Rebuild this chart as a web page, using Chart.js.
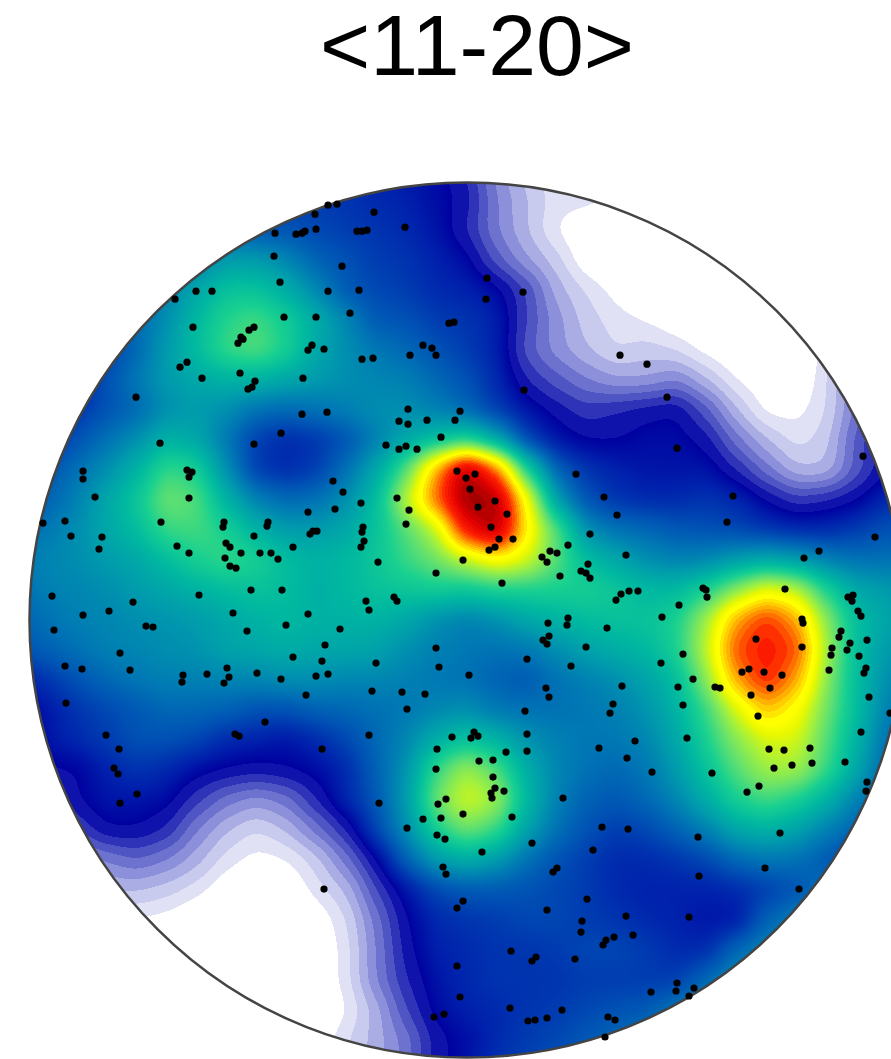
<!DOCTYPE html>
<html>
<head>
<meta charset="utf-8">
<title>&lt;11-20&gt;</title>
<script src="https://cdn.jsdelivr.net/npm/chart.js@4"></script>
<style>
  html, body { margin: 0; padding: 0; background: #fff; overflow: hidden; }
  #wrap { width: 891px; height: 1059px; overflow: hidden; }
  canvas { display: block; }
</style>
</head>
<body>
<div id="wrap"><canvas id="canvas" width="954" height="1059"></canvas></div>
<script>
// pole figure, x / y are projection units with the disc centre at 0,0
var titleText = '<11-20>';
var discRadius = 437.5;

// density grid (0 = white, 99 = darkest red)
var gridX = [-450,-420,-390,-360,-330,-300,-270,-240,-210,-180,-150,-120,-90,-60,-30,0,30,60,90,120,150,180,210,240,270,300,330,360,390,420,450];
var gridY = [450,420,390,360,330,300,270,240,210,180,150,120,90,60,30,0,-30,-60,-90,-120,-150,-180,-210,-240,-270,-300,-330,-360,-390,-420,-450];
var density = [
  [28,28,28,28,28,28,28,28,28,28,27,26,25,24,23,20,13,9,6,5,4,3,2,1,1,1,1,1,1,1,1],
  [29,29,29,29,29,29,29,29,29,29,28,27,26,25,23,21,14,10,7,7,6,5,2,1,1,1,1,1,1,1,1],
  [32,32,32,32,32,32,32,32,30,30,29,28,27,26,24,20,14,10,6,3,2,1,1,1,1,1,1,1,1,1,1],
  [35,35,35,35,35,35,35,40,40,37,32,30,28,27,25,23,17,12,9,4,2,1,1,1,1,1,1,1,1,1,1],
  [34,34,34,34,34,36,42,47,47,43,37,31,29,28,26,25,23,18,11,8,5,2,1,1,1,1,1,1,1,1,1],
  [30,30,30,30,33,38,45,51,53,49,43,37,31,30,28,27,25,18,13,9,7,6,4,2,1,1,1,2,2,2,2],
  [26,26,26,28,33,40,46,52,54,50,42,38,35,33,30,28,25,17,13,10,8,9,8,5,3,1,1,8,12,14,14],
  [24,24,24,30,35,40,42,44,44,42,40,38,37,36,33,30,26,20,17,14,12,12,14,10,6,4,3,8,14,18,18],
  [26,26,27,30,33,38,40,38,34,33,34,36,38,38,36,33,28,24,21,19,20,21,22,17,10,5,5,8,15,20,20],
  [26,26,30,34,38,44,42,35,28,26,27,30,36,42,46,50,42,29,24,22,22,23,23,21,15,10,7,9,17,22,22],
  [30,30,34,38,44,52,50,38,28,26,28,34,42,54,76,97,80,50,32,27,25,24,24,24,20,15,10,10,17,22,22],
  [30,32,36,42,48,56,54,44,36,33,34,38,46,62,80,99,97,68,40,30,27,26,26,27,26,22,19,20,22,26,28],
  [33,35,38,42,46,52,53,50,44,40,40,42,47,54,62,88,97,70,54,38,34,33,31,30,29,27,26,26,28,30,30],
  [35,37,38,40,42,46,50,52,50,46,44,45,48,52,56,62,68,64,54,46,42,38,36,37,40,42,40,36,34,34,34],
  [33,36,37,38,40,42,44,46,47,46,43,45,47,48,49,48,50,50,50,50,48,45,45,50,58,66,62,50,42,40,38],
  [32,34,36,37,38,39,40,42,44,45,44,44,44,42,38,36,38,42,44,46,47,47,50,60,76,84,76,58,46,42,38],
  [30,32,34,36,37,38,39,41,42,43,42,42,41,38,36,35,34,35,38,41,43,45,50,62,82,86,82,60,46,40,36],
  [24,27,30,33,35,36,36,37,37,38,38,37,37,36,35,34,32,31,34,36,38,41,46,58,76,85,76,58,46,38,34],
  [22,24,27,29,31,33,33,32,30,30,32,33,34,35,37,38,35,34,34,35,36,39,44,52,64,74,68,56,46,36,32],
  [20,24,26,28,30,30,29,26,25,24,26,29,33,37,43,47,44,39,36,35,35,37,42,50,58,64,64,54,44,34,30],
  [20,22,22,25,27,26,23,22,21,22,23,26,32,39,52,60,54,43,37,34,33,35,40,47,54,60,60,52,42,32,28],
  [14,16,22,24,24,23,19,15,13,15,20,26,31,40,56,64,60,45,36,32,31,33,37,43,50,53,50,44,36,30,26],
  [12,14,18,22,22,20,14,10,8,10,15,20,29,38,50,56,52,41,34,30,28,29,32,36,42,44,41,36,32,28,25],
  [8,10,12,14,16,14,11,7,5,6,9,15,22,32,40,43,40,34,30,28,26,26,27,29,33,35,34,31,28,26,24],
  [5,6,8,10,10,9,7,4,2,3,7,10,18,24,29,31,31,30,29,28,26,25,25,25,26,28,30,34,30,26,24],
  [3,4,4,5,6,5,3,1,1,1,4,8,15,22,26,27,28,29,29,28,27,26,25,24,24,32,36,36,30,28,26],
  [2,2,2,2,2,2,1,1,1,1,3,7,14,21,25,26,27,27,28,29,29,28,26,26,33,37,37,36,34,32,30],
  [1,1,1,1,1,1,1,1,1,1,3,7,14,20,24,26,27,27,27,28,28,28,28,33,38,38,38,38,36,34,32],
  [1,1,1,1,1,1,1,1,1,1,2,6,11,18,23,25,26,27,28,29,30,31,35,38,38,38,38,38,38,36,34],
  [1,1,1,1,1,1,1,1,1,1,4,8,11,15,21,23,26,28,29,31,33,35,38,38,38,38,38,38,38,36,34],
  [1,1,1,1,1,1,1,1,1,1,4,8,11,15,21,24,27,29,30,32,34,36,38,38,38,38,38,38,38,36,34]
];

// colour stops: density value, colour
var stopValues = [0,6,8,10,12,14,16,18,20,22,25,30,35,40,45,50,55,60,65,68,73,78,83,90,98];
var stopColors = ['#ffffff','#e0e1f5','#c8caee','#a9ade3','#8c90da','#6e72cf','#5055c4','#2e33b8','#0f12ab','#0000a0','#0020ac','#0050b4','#0078b4','#009cac','#00b8a0','#18d090','#60e070','#a0f040','#e8f800','#ffff00','#ffc000','#ff7000','#ff2000','#e00000','#900000'];

// measured orientations
var poleX = [-139,-152,-192,-171,-165,-162,-151,-193,-187,-139,-271,-255,-292,-183,-151,-274,-213,-218,-224,-229,-226,-155,-159,-143,-280,-287,-227,-265,-164,-212,-219,-215,-331,
  -130,-93,-62,-110,-105,-100,-125,20,56,-108,19,-117,-18,-13,-44,-35,-31,-57,-105,-94,153,57,180,200,
  -165,-140,-186,-213,-307,-384,-384,-280,-275,-278,-372,-278,-159,-424,-402,-306,-243,-244,-199,-200,-396,-365,-213,-150,-154,-157,-174,-368,-290,-241,-237,-226,-278,-207,-196,-189,-242,-237,-231,-415,-268,-216,-185,-334,-384,-358,-234,-159,
  -59,-7,-68,-59,-40,-12,-26,-81,-68,-61,-50,-10,8,-1,3,-134,-124,28,11,-70,-106,-132,-58,40,-61,24,-104,-105,-103,-106,32,46,22,28,-4,-89,-31,35,-101,-70,-73,-98,109,137,150,123,101,83,75,90,80,159,121,114,119,123,93,154,149,162,101,
  210,396,266,260,408,352,337,171,236,240,239,212,318,381,386,385,391,394,195,335,
  -413,-321,-314,-220,-181,-142,-347,-402,-385,-337,-174,-145,-284,-260,-240,-238,-243,-210,-186,-151,-139,-285,-161,-401,-202,-361,-228,-232,-145,-348,-353,-349,-330,-347,
  -127,-31,-91,-28,2,81,100,140,82,76,80,119,60,104,-95,-65,-42,79,82,155,146,143,-60,58,-98,-15,7,4,11,60,-30,39,60,132,160,12,26,-31,26,28,37,24,25,-21,-29,-88,96,-4,-44,-26,45,135,-60,-30,-22,161,
  336,374,372,400,383,380,289,335,365,364,392,216,194,399,397,362,275,282,297,315,226,211,248,253,303,284,402,216,291,423,394,168,220,343,302,317,378,307,325,345,185,245,292,280,400,399,231,313,
  -143,15,65,126,-24,-21,90,86,-4,-10,120,80,115,159,114,147,139,136,44,69,65,108,-10,-7,43,95,-23,-33,61,68,80,141,148,138,
  298,232,332,222,166,210,209,227,184,222];
var poleY = [415,406,387,386,387,389,391,364,338,329,329,329,321,303,303,293,293,290,281,277,283,275,270,271,258,253,247,242,242,239,231,233,223,
  416,408,393,389,389,390,354,342,328,330,321,307,297,298,275,272,265,265,261,262,265,230,256,223,
  206,208,187,176,177,149,141,150,148,143,123,122,108,97,99,98,98,93,98,94,84,83,84,89,89,86,73,71,74,77,73,67,67,67,67,61,62,54,52,24,25,30,30,18,5,9,7,6,
  211,209,199,196,200,200,183,175,171,174,171,149,146,142,131,139,128,119,113,122,117,111,110,106,96,93,93,88,79,73,81,81,70,73,60,58,47,37,19,19,23,10,146,123,105,86,75,69,63,67,58,65,56,49,47,42,44,26,20,29,2,
  172,164,124,98,83,69,62,29,32,23,30,15,31,23,25,19,9,4,3,1,
  -10,-6,-7,-11,-5,-25,-33,-46,-49,-50,-37,-41,-55,-54,-48,-57,-63,-53,-59,-56,-54,-62,-75,-83,-102,-115,-116,-114,-129,-129,-148,-154,-174,-183,
  -9,-28,-43,-47,-55,-3,-5,-8,-16,-20,-24,-27,-39,-46,-71,-72,-74,-68,-77,-66,-84,-93,-89,-91,-115,-117,-112,-118,-116,-114,-129,-132,-131,-128,-138,-141,-140,-149,-157,-168,-171,-173,-178,-179,-184,-183,-178,-194,-199,-198,-197,-207,-208,-215,-219,-209,
  -3,-11,-17,-20,-23,-30,-19,-27,-28,-35,-36,-34,-43,-48,-53,-50,-52,-49,-52,-55,-59,-67,-67,-68,-68,-75,-77,-85,-96,-93,-112,-121,-118,-128,-129,-130,-142,-148,-145,-143,-152,-153,-166,-172,-162,-171,-217,-213,
  -269,-232,-223,-230,-247,-254,-248,-252,-281,-288,-279,-290,-301,-296,-312,-317,-320,-325,-331,-337,-341,-339,-346,-377,-388,-390,-394,-397,-401,-400,-398,-397,-400,-417,
  -248,-256,-269,-297,-315,-363,-371,-368,-372,-376];

var poleData = poleX.map(function(x, i) { return {x: x, y: poleY[i]}; });
var gridData = [];
density.forEach(function(row, j) {
  row.forEach(function(v, i) {
    gridData.push({x: gridX[i], y: gridY[j], v: v});
  });
});

function hexToRgb(h) {
  return [parseInt(h.substr(1,2),16), parseInt(h.substr(3,2),16), parseInt(h.substr(5,2),16)];
}

// density value to colour, stepped in the lavender and red ranges like the contours
function colorOf(v) {
  if (v < 22) v = Math.floor(v / 2) * 2;
  else if (v >= 68) v = 68 + Math.floor((v - 68) / 2) * 2;
  if (v < 6) return [255, 255, 255];
  var k = 0;
  while (k < stopValues.length - 2 && v >= stopValues[k + 1]) k++;
  var t = Math.min(1, (v - stopValues[k]) / (stopValues[k + 1] - stopValues[k]));
  var a = hexToRgb(stopColors[k]), b = hexToRgb(stopColors[k + 1]);
  return [a[0] + (b[0] - a[0]) * t, a[1] + (b[1] - a[1]) * t, a[2] + (b[2] - a[2]) * t];
}

// running box blur on a float field, rows then columns
function boxBlur(src, w, h, rad) {
  var tmp = new Float32Array(w * h), n = 2 * rad + 1, x, y, s;
  for (y = 0; y < h; y++) {
    s = 0;
    for (x = -rad; x <= rad; x++) s += src[y * w + Math.min(w - 1, Math.max(0, x))];
    for (x = 0; x < w; x++) {
      tmp[y * w + x] = s / n;
      s += src[y * w + Math.min(w - 1, x + rad + 1)] - src[y * w + Math.max(0, x - rad)];
    }
  }
  for (x = 0; x < w; x++) {
    s = 0;
    for (y = -rad; y <= rad; y++) s += tmp[Math.min(h - 1, Math.max(0, y)) * w + x];
    for (y = 0; y < h; y++) {
      src[y * w + x] = s / n;
      s += tmp[Math.min(h - 1, y + rad + 1) * w + x] - tmp[Math.max(0, y - rad) * w + x];
    }
  }
}

// the grid cells are drawn as grey squares, this smooths them and maps grey to colour
var contourPlugin = {
  id: 'contour',
  afterDatasetDraw: function(chart, args) {
    if (args.index !== 2) return;
    var area = chart.chartArea, xs = chart.scales.x, ys = chart.scales.y;
    var w = Math.round(area.right - area.left), h = Math.round(area.bottom - area.top);
    var ox = Math.round(area.left), oy = Math.round(area.top);
    var img = chart.ctx.getImageData(ox, oy, w, h), d = img.data;
    var field = new Float32Array(w * h), i;
    for (i = 0; i < w * h; i++) field[i] = d[i * 4] / 2.55;
    boxBlur(field, w, h, 11);
    boxBlur(field, w, h, 11);
    boxBlur(field, w, h, 11);
    var cx = xs.getPixelForValue(0) - ox, cy = ys.getPixelForValue(0) - oy;
    var r = xs.getPixelForValue(discRadius) - xs.getPixelForValue(0);
    for (var py = 0; py < h; py++) {
      for (var px = 0; px < w; px++) {
        var p = (py * w + px) * 4;
        var c = colorOf(field[py * w + px]);
        var dist = Math.sqrt((px - cx) * (px - cx) + (py - cy) * (py - cy));
        d[p] = c[0]; d[p + 1] = c[1]; d[p + 2] = c[2];
        d[p + 3] = dist > r ? 0 : 255;
      }
    }
    chart.ctx.putImageData(img, ox, oy);
  }
};

new Chart(document.getElementById('canvas').getContext('2d'), {
  type: 'scatter',
  plugins: [contourPlugin],
  data: {
    datasets: [
      { // 極点
        label: 'poles',
        data: poleData,
        clip: false,
        pointRadius: 3.6,
        pointBorderWidth: 0,
        pointBackgroundColor: '#000000'
      },
      { // 外周
        label: 'outline',
        data: [{x: 0, y: 0}],
        clip: false,
        pointRadius: function(ctx) {
          var s = ctx.chart.scales.x;
          return s.getPixelForValue(discRadius) - s.getPixelForValue(0);
        },
        pointBorderWidth: 2.5,
        pointBorderColor: '#444444',
        pointBackgroundColor: 'rgba(0,0,0,0)'
      },
      { // 密度
        label: 'density',
        data: gridData,
        clip: false,
        pointStyle: 'rect',
        pointBorderWidth: 0,
        pointRadius: 22,
        pointBackgroundColor: function(ctx) {
          var g = Math.round(ctx.raw.v * 2.55);
          return 'rgb(' + g + ',' + g + ',' + g + ')';
        }
      }
    ]
  },
  options: {
    responsive: false,
    animation: false,
    events: [],
    layout: { padding: 0, autoPadding: false },
    plugins: {
      legend: { display: false },
      tooltip: { enabled: false },
      title: {
        display: true,
        text: titleText,
        color: '#000000',
        font: { family: '"Liberation Sans", Arial, sans-serif', size: 86, weight: 'normal', lineHeight: 1.2 },
        padding: { top: 0, bottom: 7 }
      }
    },
    scales: {
      x: { type: 'linear', display: false, min: -467, max: 487 },
      y: { type: 'linear', display: false, min: -439, max: 510 }
    }
  }
});
</script>
</body>
</html>
